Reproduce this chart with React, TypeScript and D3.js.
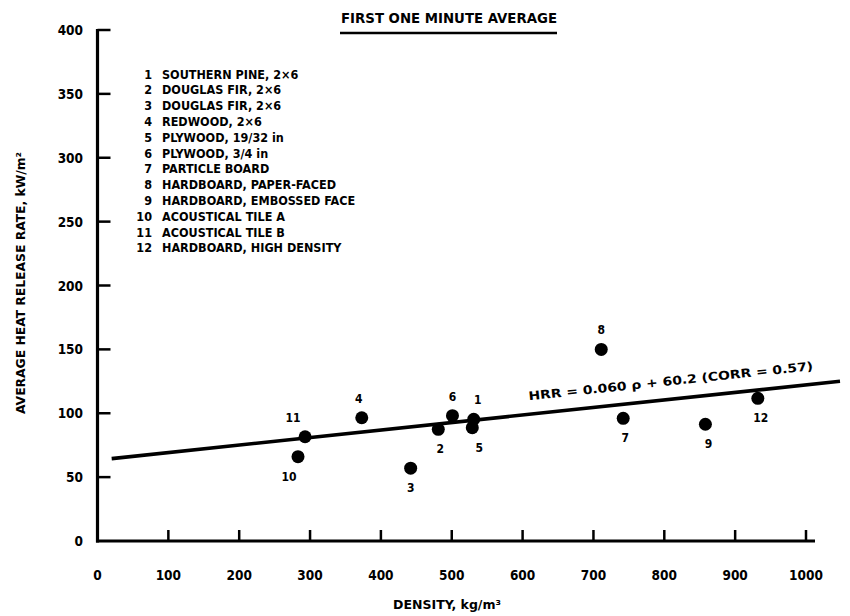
import React from "react";
import * as d3 from "d3";

const titleText = "FIRST ONE MINUTE AVERAGE";
const xTitle = "DENSITY, kg/m³";
const yTitle = "AVERAGE HEAT RELEASE RATE, kW/m²";
const equationText = "HRR = 0.060 ρ + 60.2 (CORR = 0.57)";

const xTicks = [0, 100, 200, 300, 400, 500, 600, 700, 800, 900, 1000];
const yTicks = [0, 50, 100, 150, 200, 250, 300, 350, 400];

const legendNames = [
  "SOUTHERN PINE, 2×6",
  "DOUGLAS FIR, 2×6",
  "DOUGLAS FIR, 2×6",
  "REDWOOD, 2×6",
  "PLYWOOD, 19/32 in",
  "PLYWOOD, 3/4 in",
  "PARTICLE BOARD",
  "HARDBOARD, PAPER-FACED",
  "HARDBOARD, EMBOSSED FACE",
  "ACOUSTICAL TILE A",
  "ACOUSTICAL TILE B",
  "HARDBOARD, HIGH DENSITY",
];

const pointIds = [1, 2, 3, 4, 5, 6, 7, 8, 9, 10, 11, 12];
const densities = [531, 481, 442, 373, 529, 501, 742, 711, 858, 283, 293, 932];
const hrrValues = [95.3, 87.4, 57, 96.5, 88.7, 98.1, 96, 150, 91.4, 66, 81.6, 111.7];
const labelAbove = [true, false, false, true, false, true, false, true, false, false, true, false];
const labelShift = [4, 2, 0, -3, 7, 0, 2, 0, 3, -9, -12, 3];

const fitDensity = [20, 1048];
const fitHrr = [64.5, 125];

const FONT = "'DejaVu Sans Condensed', 'Liberation Sans Narrow', 'DejaVu Sans', sans-serif";

export default function App() {
  const W = 850;
  const H = 616;
  const x = d3.scaleLinear().domain([0, 1000]).range([97.5, 806]);
  const y = d3.scaleLinear().domain([0, 400]).range([541, 30]);

  const line = d3
    .line<number>()
    .x((_, i) => x(fitDensity[i]))
    .y((_, i) => y(fitHrr[i]));

  const x0 = x(fitDensity[0]);
  const y0 = y(fitHrr[0]);
  const x1 = x(fitDensity[1]);
  const y1 = y(fitHrr[1]);
  const angle = (Math.atan2(y1 - y0, x1 - x0) * 180) / Math.PI;
  const eqStart = 529;
  const eqY = y0 + ((eqStart - x0) * (y1 - y0)) / (x1 - x0) - 14;

  const legendTop = 74;
  const legendStep = 15.8;

  return (
    <svg width={W} height={H} style={{ position: "absolute", left: 0, top: 0, background: "#fff" }}>
      <rect width={W} height={H} fill="#fff" />
      <g fontFamily={FONT} fontWeight="bold" fill="#000">
        <text x={449} y={23} textAnchor="middle" fontSize={14} textLength={216} lengthAdjust="spacingAndGlyphs">
          {titleText}
        </text>
        <line x1={340} x2={557} y1={33} y2={33} stroke="#000" strokeWidth={2.5} />

        {/* axes */}
        <line x1={x(0)} x2={x(0)} y1={y(400) - 1} y2={y(0) + 1.5} stroke="#000" strokeWidth={3.2} />
        <line x1={x(0) - 1.5} x2={815} y1={y(0)} y2={y(0)} stroke="#000" strokeWidth={3.2} />
        {yTicks.map((t) => (
          <g key={"y" + t}>
            {t > 0 && <line x1={x(0)} x2={x(0) + 13} y1={y(t)} y2={y(t)} stroke="#000" strokeWidth={2.5} />}
            <text x={83} y={y(t) + 5} textAnchor="end" fontSize={13.5}>
              {t}
            </text>
          </g>
        ))}
        {xTicks.map((t) => (
          <g key={"x" + t}>
            {t > 0 && <line x1={x(t)} x2={x(t)} y1={y(0)} y2={y(0) - 11} stroke="#000" strokeWidth={2.5} />}
            <text x={x(t)} y={580} textAnchor="middle" fontSize={13.5}>
              {t}
            </text>
          </g>
        ))}

        <text x={447} y={609} textAnchor="middle" fontSize={12.5} textLength={108} lengthAdjust="spacingAndGlyphs">
          {xTitle}
        </text>
        <text
          transform={`translate(25, ${283}) rotate(-90)`}
          textAnchor="middle"
          fontSize={12.5}
          textLength={262}
          lengthAdjust="spacingAndGlyphs"
        >
          {yTitle}
        </text>

        {/* legend */}
        {legendNames.map((name, i) => (
          <g key={"lg" + i}>
            <text x={152} y={legendTop + i * legendStep + 4.5} textAnchor="end" fontSize={12.5}>
              {pointIds[i]}
            </text>
            <text x={162} y={legendTop + i * legendStep + 4.5} fontSize={12.5}>
              {name}
            </text>
          </g>
        ))}

        {/* regression line */}
        <path d={line([0, 1]) || ""} stroke="#000" strokeWidth={3.6} fill="none" />
        <text
          transform={`translate(${eqStart}, ${eqY}) rotate(${angle})`}
          fontSize={12}
          textLength={286}
          lengthAdjust="spacingAndGlyphs"
        >
          {equationText}
        </text>

        {/* points */}
        {pointIds.map((id, i) => {
          const px = x(densities[i]);
          const py = y(hrrValues[i]);
          return (
            <g key={"p" + id}>
              <circle cx={px} cy={py} r={6.5} fill="#000" />
              <text
                x={px + labelShift[i]}
                y={py + (labelAbove[i] ? -15 : 24)}
                textAnchor="middle"
                fontSize={12}
              >
                {id}
              </text>
            </g>
          );
        })}
      </g>
    </svg>
  );
}
